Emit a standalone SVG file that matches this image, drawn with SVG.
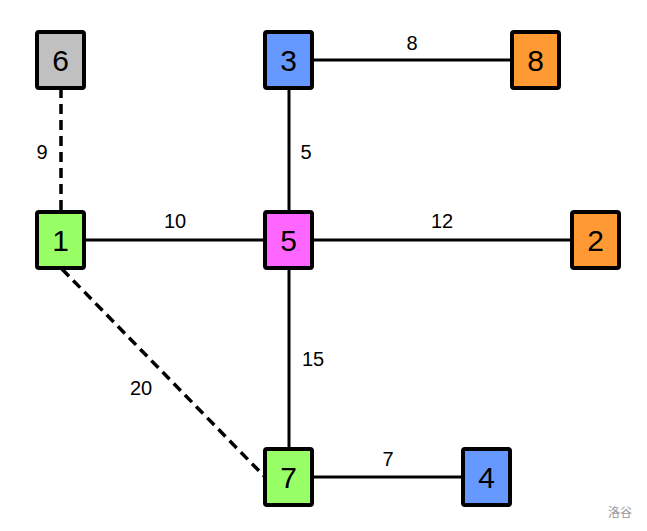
<svg xmlns="http://www.w3.org/2000/svg" width="647" height="531" viewBox="0 0 647 531">
<style>
.e{stroke:#000;stroke-width:3;fill:none}
.d{stroke-dasharray:10,6;stroke-width:3.5}
.n rect{stroke:#000;stroke-width:4;rx:2}
.n text{font-family:"Liberation Sans",Arial,sans-serif;font-size:30px;text-anchor:middle;dominant-baseline:central}
.l{font-family:"Liberation Sans",Arial,sans-serif;font-size:20px;text-anchor:middle;dominant-baseline:central}
</style>
<rect width="647" height="531" fill="#fff"/>
<g id="edges">
<line class="e d" x1="61" y1="88" x2="61" y2="212"/>
<line class="e" x1="289" y1="60" x2="535" y2="60"/>
<line class="e" x1="289" y1="60" x2="289" y2="240"/>
<line class="e" x1="61" y1="240" x2="596" y2="240"/>
<line class="e" x1="289" y1="240" x2="289" y2="477"/>
<line class="e d" x1="62" y1="269" x2="265" y2="477"/>
<line class="e" x1="289" y1="477" x2="487" y2="477"/>
<text class="l" x="42" y="152">9</text>
<text class="l" x="412" y="43">8</text>
<text class="l" x="306" y="152">5</text>
<text class="l" x="175" y="221">10</text>
<text class="l" x="442" y="221">12</text>
<text class="l" x="313" y="359">15</text>
<text class="l" x="141" y="388">20</text>
<text class="l" x="388" y="459">7</text>
</g>
<g id="n6" class="n"><rect x="37" y="32" width="47" height="56" fill="#c0c0c0"/><text x="60.5" y="60">6</text></g>
<g id="n3" class="n"><rect x="265" y="32" width="47" height="56" fill="#6699ff"/><text x="288.5" y="60">3</text></g>
<g id="n8" class="n"><rect x="512" y="32" width="47" height="56" fill="#ff9933"/><text x="535.5" y="60">8</text></g>
<g id="n1" class="n"><rect x="37" y="212" width="47" height="56" fill="#99ff66"/><text x="60.5" y="240">1</text></g>
<g id="n5" class="n"><rect x="265" y="212" width="47" height="56" fill="#ff66ff"/><text x="288.5" y="240">5</text></g>
<g id="n2" class="n"><rect x="572" y="212" width="47" height="56" fill="#ff9933"/><text x="595.5" y="240">2</text></g>
<g id="n7" class="n"><rect x="265" y="449" width="47" height="56" fill="#99ff66"/><text x="288.5" y="477">7</text></g>
<g id="n4" class="n"><rect x="463" y="449" width="47" height="56" fill="#6699ff"/><text x="486.5" y="477">4</text></g>
<text x="620" y="511" font-family="'Noto Sans CJK SC',sans-serif" font-size="12" fill="#999" text-anchor="middle" dominant-baseline="central">洛谷</text>
</svg>
